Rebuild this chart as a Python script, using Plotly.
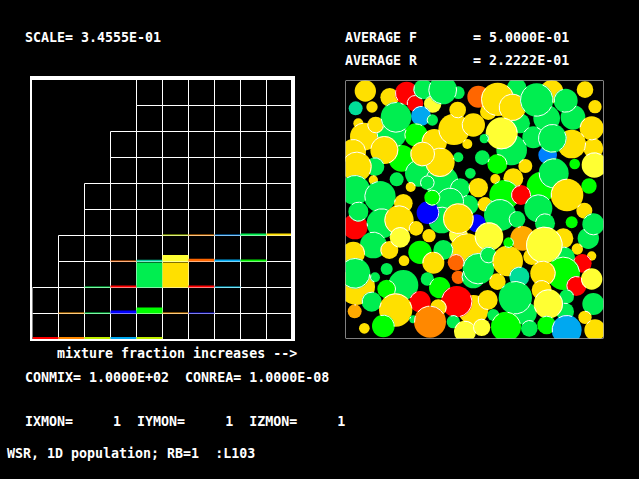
import math
import plotly.graph_objects as go

# ---------- text ----------
label_rows = [
    ("SCALE= 3.4555E-01", 25, 37),
    ("AVERAGE F       = 5.0000E-01", 345, 37),
    ("AVERAGE R       = 2.2222E-01", 345, 61),
    ("mixture fraction increases -->", 57, 353),
    ("CONMIX= 1.0000E+02  CONREA= 1.0000E-08", 25, 377),
    ("IXMON=     1  IYMON=     1  IZMON=     1", 25, 421),
    ("WSR, 1D population; RB=1  :L103", 7, 453),
]

# ---------- left panel: histogram cells ----------
column_rows = [2, 4, 6, 8, 10, 10, 10, 10, 10, 10]
bar_col = [0, 1, 2, 3, 4,  1, 2, 3, 4, 5, 6,  2, 3, 4, 5, 6, 7,  3, 4, 5, 6, 7, 8,  5, 6, 7, 8, 9]
bar_row = [0, 0, 0, 0, 0,  1, 1, 1, 1, 1, 1,  2, 2, 2, 2, 2, 2,  3, 3, 3, 3, 3, 3,  4, 4, 4, 4, 4]
bar_height = [0.1, 0.1, 0.1, 0.1, 0.1,
              0.04, 0.04, 0.12, 0.23, 0.04, 0.04,
              0.04, 0.08, 0.96, 0.96, 0.08, 0.04,
              0.04, 0.07, 0.25, 0.11, 0.08, 0.08,
              0.04, 0.04, 0.04, 0.08, 0.08]
bar_color = ["#FF0000", "#FF8800", "#C0F000", "#00A8F0", "#C0F000",
             "#FF9900", "#00EE50", "#0000FF", "#00FF00", "#FF9900", "#0000DD",
             "#00EE50", "#FF0000", "#00EE50", "#FFE000", "#FF0000", "#00C8F0",
             "#FF6600", "#00CC99", "#FFFF33", "#FF6600", "#00A8F0", "#00EE00",
             "#C0E000", "#FF8800", "#0088F0", "#00EE50", "#FFE000"]

# ---------- right panel: particles, in painting order (domain 0..774) ----------
particle_x = [61, 134, 32, 81, 185, 210, 263, 235, 340, 293,
              228, 40, 57, 140, 92, 153, 262, 213, 268, 327,
              338, 385, 367, 400, 430, 515, 620, 525, 500, 458,
              502, 605, 684, 575, 662, 720, 750, 745, 680, 740,
              470, 418, 565, 608, 590, 622, 626, 748, 412, 457,
              541, 340, 689, 25, 170, 220, 290, 118, 285, 233,
              90, 35, 85, 155, 247, 376, 197, 345, 30, 105,
              400, 505, 451, 370, 315, 420, 478, 732, 528, 666,
              465, 580, 718, 516, 600, 680, 730, 745, 175, 30,
              40, 110, 162, 290, 249, 262, 213, 252, 85, 133,
              165, 395, 340, 365, 340, 432, 25, 295, 225, 265,
              177, 125, 35, 30, 90, 333, 340, 175, 125, 247,
              284, 80, 225, 385, 335, 152, 280, 29, 205, 325,
              255, 115, 58, 428, 445, 360, 410, 385, 400, 430,
              533, 488, 457, 491, 523, 540, 511, 655, 560, 697,
              655, 598, 740, 712, 655, 594, 694, 740, 590, 665,
              660, 610, 745, 720, 553, 483, 605, 665, 750]
particle_y = [33, 52, 85, 81, 40, 70, 72, 28, 38, 30,
              108, 130, 170, 160, 135, 112, 120, 165, 185, 148,
              90, 135, 192, 50, 95, 25, 35, 130, 210, 58,
              82, 115, 112, 60, 62, 29, 80, 205, 192, 145,
              160, 176, 172, 225, 320, 175, 280, 255, 233, 252,
              258, 232, 252, 215, 235, 280, 305, 210, 247, 222,
              260, 260, 300, 298, 308, 280, 321, 325, 330, 350,
              323, 295, 297, 375, 365, 373, 345, 318, 345, 345,
              405, 385, 392, 418, 430, 427, 475, 433, 370, 440,
              395, 430, 420, 420, 398, 353, 445, 467, 495, 510,
              472, 430, 465, 510, 416, 470, 520, 510, 517, 548,
              542, 567, 620, 580, 592, 547, 592, 615, 627, 597,
              623, 665, 665, 690, 665, 690, 683, 694, 718, 725,
              725, 738, 745, 660, 705, 755, 742, 590, 566, 525,
              475, 543, 605, 488, 590, 700, 653, 475, 530, 507,
              535, 495, 528, 550, 580, 580, 618, 597, 630, 650,
              695, 672, 672, 712, 745, 740, 735, 750, 750]
particle_r = [32, 28, 21, 17, 35, 25, 26, 30, 19, 43,
              30, 15, 42, 45, 25, 46, 17, 35, 38, 47,
              25, 35, 15, 33, 25, 30, 35, 30, 46, 50,
              41, 40, 37, 50, 36, 25, 20, 30, 43, 36,
              48, 14, 33, 28, 45, 43, 45, 38, 22, 30,
              21, 15, 16, 38, 40, 40, 50, 42, 44, 37,
              28, 45, 14, 21, 22, 16, 15, 30, 45, 47,
              29, 30, 15, 30, 42, 22, 45, 23, 30, 49,
              48, 42, 24, 25, 30, 18, 32, 33, 28, 38,
              30, 45, 44, 40, 34, 24, 22, 20, 40, 27,
              31, 27, 28, 50, 46, 43, 35, 30, 35, 33,
              16, 18, 55, 46, 15, 25, 20, 45, 28, 20,
              32, 30, 32, 45, 47, 50, 25, 21, 12, 20,
              48, 34, 16, 30, 18, 33, 26, 35, 47, 25,
              37, 46, 25, 16, 30, 35, 50, 30, 25, 17,
              35, 55, 14, 28, 50, 38, 30, 32, 30, 22,
              27, 44, 33, 20, 25, 45, 28, 45, 32]
particle_code = list("YYTYRRLGGG" "SYYGYGGPYY" "YYYOYGYGGY" "YGGGGYYYYY"
                     "LGGCPGGLGP" "YGPYPGGYYY" "GYYGGGYGGG" "YYYGGYPPRY"
                     "GGYGGPGGYR" "GGYGBPYYGY" "LBLYYLYGPY" "YGYGGOOGPG"
                     "PGRYRYYHGG" "APYYGLLGGG" "HYYPTGGYYY" "GLYRPYRLYG"
                     "GLGYGPPSY")
palette = {"Y": "#FFE000", "G": "#00EE50", "L": "#FFFF33", "P": "#00FF00", "R": "#FF0000",
           "B": "#0000FF", "S": "#00A8F0", "O": "#FF6600", "A": "#FF8800", "H": "#FFAA00",
           "T": "#00DD99", "C": "#0080FF"}

W, H = 639, 479
fig = go.Figure()

# grid of the histogram
gx, gy = [], []
for c, rows in enumerate(column_rows):
    for r in range(rows):
        gx += [c, c + 1, c + 1, c, c, None]
        gy += [r, r, r + 1, r + 1, r, None]
fig.add_trace(go.Scatter(x=gx, y=gy, mode="lines", line=dict(color="white", width=1),
                         xaxis="x", yaxis="y", hoverinfo="skip", showlegend=False))

# coloured cells
for c, r, h, col in zip(bar_col, bar_row, bar_height, bar_color):
    fig.add_trace(go.Scatter(x=[c, c + 1, c + 1, c, c], y=[r, r, r + h, r + h, r],
                             mode="lines", fill="toself", fillcolor=col, line=dict(width=0),
                             xaxis="x", yaxis="y", hoverinfo="skip", showlegend=False))

# particles: a filled disc, then the part of its rim lying over earlier discs
PX_PER_UNIT = 258 / 774
for i, (x, y, rad, code) in enumerate(zip(particle_x, particle_y, particle_r, particle_code)):
    fig.add_trace(go.Scatter(x=[x], y=[y], mode="markers",
                             marker=dict(size=2 * rad * PX_PER_UNIT, color=palette[code],
                                         line=dict(width=0)),
                             xaxis="x2", yaxis="y2", hoverinfo="skip", showlegend=False))
    ax, ay = [], []
    steps = 120
    for k in range(steps + 1):
        t = 2 * math.pi * k / steps
        px, py = x + (rad - 1.5) * math.cos(t), y + (rad - 1.5) * math.sin(t)
        inside = any((px - particle_x[j]) ** 2 + (py - particle_y[j]) ** 2 < particle_r[j] ** 2
                     for j in range(i))
        ax.append(px if inside else None)
        ay.append(py if inside else None)
    if any(v is not None for v in ax):
        fig.add_trace(go.Scatter(x=ax, y=ay, mode="lines", line=dict(color="white", width=1),
                                 connectgaps=False, xaxis="x2", yaxis="y2",
                                 hoverinfo="skip", showlegend=False))

hide = dict(visible=False, fixedrange=True)
fig.update_layout(
    width=W, height=H, margin=dict(l=0, r=0, t=0, b=0), autosize=False,
    paper_bgcolor="black", plot_bgcolor="black", showlegend=False,
    xaxis=dict(domain=[32.5 / W, 292.5 / W], range=[0, 10], **hide),
    yaxis=dict(domain=[1 - 339.5 / H, 1 - 79.5 / H], range=[0, 10], **hide),
    xaxis2=dict(domain=[345.5 / W, 603.5 / W], range=[1.5, 775.5], **hide),
    yaxis2=dict(domain=[1 - 338.5 / H, 1 - 80.5 / H], range=[775.5, 1.5], **hide),
)

# thick frame of the left panel
frame = [(30, 76, 295, 80), (30, 76, 32, 341), (291, 76, 295, 341), (30, 339, 295, 341)]
for x0, y0, x1, y1 in frame:
    fig.add_shape(type="rect", xref="paper", yref="paper",
                  x0=x0 / W, x1=x1 / W, y0=1 - y0 / H, y1=1 - y1 / H,
                  fillcolor="white", line=dict(width=0), layer="above")
fig.add_shape(type="rect", xref="x2", yref="y2", x0=1.5, x1=775.5, y0=1.5, y1=775.5,
              line=dict(color="white", width=1), fillcolor="rgba(0,0,0,0)", layer="above")

for text, x, y in label_rows:
    fig.add_annotation(text=text.replace(" ", "\u00a0"), xref="paper", yref="paper",
                       x=x / W, y=1 - y / H, xanchor="left", yanchor="middle", showarrow=False,
                       font=dict(family="DejaVu Sans Mono", size=13.3, color="white", weight="bold"),
                       borderpad=0, borderwidth=0)

fig.write_html("out.html", config={"displayModeBar": False, "staticPlot": True},
               post_script="document.body.style.margin='0';document.documentElement.style.overflow='hidden';")
